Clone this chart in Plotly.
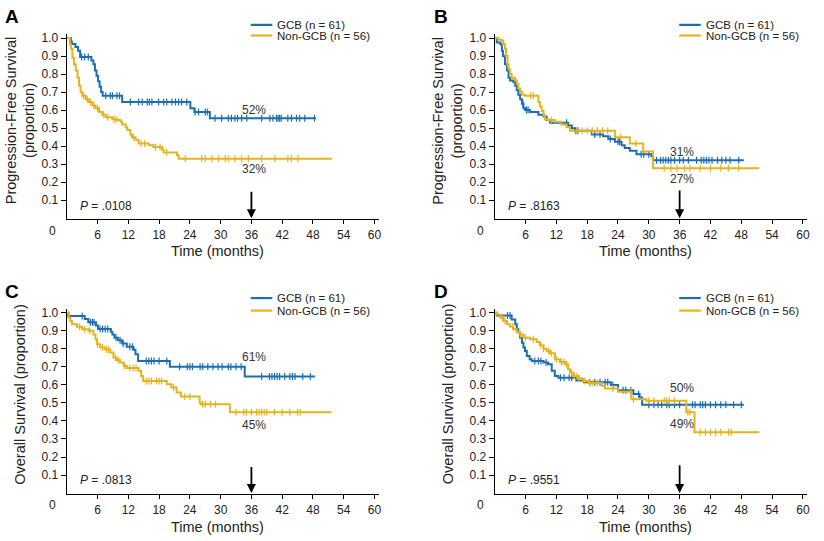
import plotly.graph_objects as go
from bisect import bisect_right

BLUE = "#1b6eb4"
GOLD = "#e6b320"
W, H = 824, 541

x_ticks = [6, 12, 18, 24, 30, 36, 42, 48, 54, 60]
y_ticks = [0.1, 0.2, 0.3, 0.4, 0.5, 0.6, 0.7, 0.8, 0.9, 1.0]
y_tick_text = ["0.1", "0.2", "0.3", "0.4", "0.5", "0.6", "0.7", "0.8", "0.9", "1.0"]

legend_labels = ["GCB (n = 61)", "Non-GCB (n = 56)"]

# ---------------- Panel A ----------------
A_gcb_t = [0.8, 1.0, 1.7, 2.2, 2.6, 4.8, 5.2, 5.5, 5.8, 6.1, 6.4, 6.7, 7.0, 10.8, 24.1, 24.9, 27.9]
A_gcb_s = [0.98, 0.967, 0.95, 0.93, 0.895, 0.875, 0.855, 0.82, 0.79, 0.76, 0.73, 0.70, 0.68, 0.645, 0.61, 0.59, 0.555]
A_gcb_end = 48.6
A_gcb_cens = [2.9, 3.5, 4.2, 7.6, 8.5, 8.9, 9.8, 10.3, 12.4, 14.0, 14.7, 15.7, 16.1, 16.6, 17.9, 18.9, 19.5, 20.5,
              21.2, 21.8, 22.4, 23.4, 25.0, 25.7, 27.0, 27.4, 28.9, 30.2, 31.5, 32.1, 32.8, 33.3, 34.1, 35.1, 38.0,
              39.6, 40.2, 40.9, 41.2, 41.5, 41.8, 43.1, 43.8, 44.8, 45.4, 46.4, 48.3]
A_ngcb_t = [0.6, 0.8, 1.1, 1.4, 1.75, 2.1, 2.4, 2.7, 3.0, 3.7, 4.3, 5.0, 5.6, 6.3, 6.9, 7.6, 8.9, 9.8, 10.5, 10.8,
            11.5, 11.8, 12.4, 12.7, 13.4, 14.0, 16.0, 16.9, 18.6, 18.9, 21.5, 21.8]
A_ngcb_s = [0.965, 0.94, 0.89, 0.855, 0.82, 0.78, 0.735, 0.70, 0.68, 0.66, 0.645, 0.625, 0.61, 0.59, 0.575, 0.56,
            0.55, 0.545, 0.535, 0.52, 0.505, 0.49, 0.465, 0.45, 0.435, 0.415, 0.405, 0.395, 0.38, 0.365, 0.35, 0.33]
A_ngcb_end = 51.7
A_ngcb_cens = [3.3, 4.0, 4.6, 5.3, 6.0, 7.2, 8.0, 9.2, 9.6, 13.0, 14.5, 15.2, 17.3, 18.2, 19.5, 23.1, 26.3, 27.0,
               28.3, 29.6, 30.9, 31.5, 32.8, 34.1, 35.4, 38.0, 40.6, 43.1, 43.8, 45.1]

# ---------------- Panel B ----------------
B_gcb_t = [0.4, 1.1, 1.4, 1.6, 2.0, 2.4, 2.7, 3.0, 3.65, 4.0, 4.3, 4.6, 4.95, 5.3, 5.6, 5.9, 6.9, 8.5, 9.5, 10.1,
           10.8, 14.3, 15.0, 15.6, 18.9, 21.1, 22.1, 23.4, 24.7, 25.3, 26.3, 27.6, 30.5, 30.8]
B_gcb_s = [0.975, 0.965, 0.93, 0.90, 0.855, 0.82, 0.78, 0.765, 0.755, 0.735, 0.71, 0.685, 0.66, 0.635, 0.61, 0.60,
           0.59, 0.575, 0.565, 0.545, 0.53, 0.515, 0.50, 0.485, 0.465, 0.455, 0.44, 0.425, 0.405, 0.39, 0.375,
           0.355, 0.345, 0.322]
B_gcb_end = 48.5
B_gcb_cens = [5.5, 6.2, 6.5, 14.0, 15.8, 16.2, 19.5, 20.5, 22.5, 24.0, 24.3, 28.5, 29.0, 30.0, 31.5, 32.3, 32.8,
              33.3, 33.8, 34.3, 35.0, 36.0, 36.7, 37.7, 39.3, 40.2, 40.7, 41.2, 41.7, 42.3, 43.4, 44.2, 45.0,
              45.8, 47.5]
B_ngcb_t = [0.7, 1.4, 1.7, 2.0, 2.2, 2.5, 2.7, 3.0, 3.3, 4.0, 4.3, 4.6, 4.95, 5.3, 5.9, 8.5, 8.8, 9.15, 9.5, 9.8,
            10.4, 11.7, 13.0, 14.0, 14.65, 23.4, 26.3, 28.9, 30.8]
B_ngcb_s = [0.99, 0.985, 0.965, 0.94, 0.90, 0.855, 0.825, 0.80, 0.78, 0.765, 0.745, 0.72, 0.70, 0.685, 0.68, 0.645,
            0.62, 0.595, 0.57, 0.55, 0.545, 0.535, 0.52, 0.505, 0.485, 0.45, 0.415, 0.37, 0.277]
B_ngcb_end = 51.5
B_ngcb_cens = [2.5, 7.0, 7.5, 11.0, 16.0, 17.0, 18.0, 19.0, 20.0, 21.0, 22.0, 24.5, 27.5, 33.0, 34.3, 35.5, 37.0,
               38.0, 40.0, 42.0, 44.0, 45.5, 47.5]

# ---------------- Panel C ----------------
C_gcb_t = [0.3, 3.5, 4.2, 5.7, 6.1, 8.6, 8.9, 9.3, 10.0, 10.8, 11.7, 13.0, 13.4, 13.9, 20.1, 34.7]
C_gcb_s = [0.982, 0.965, 0.947, 0.93, 0.91, 0.895, 0.88, 0.862, 0.847, 0.83, 0.812, 0.795, 0.77, 0.733, 0.70, 0.646]
C_gcb_end = 48.4
C_gcb_cens = [3.0, 4.6, 5.0, 5.3, 6.5, 7.0, 7.5, 8.0, 9.6, 10.4, 11.0, 12.3, 12.8, 15.5, 16.0, 16.5, 17.0, 18.0,
              19.5, 22.0, 23.5, 24.0, 24.5, 26.0, 26.5, 27.5, 28.5, 29.5, 30.3, 31.5, 32.0, 33.0, 34.0, 38.0,
              39.5, 40.0, 40.5, 41.0, 41.5, 42.5, 43.5, 44.0, 44.5, 46.0, 47.5]
C_ngcb_t = [0.4, 0.7, 1.0, 2.0, 3.0, 4.3, 5.2, 5.6, 5.9, 6.5, 7.5, 8.5, 9.1, 9.8, 10.4, 11.1, 11.7, 14.0, 14.5,
            14.9, 19.5, 20.4, 21.4, 22.25, 25.9, 26.1, 31.8]
C_ngcb_s = [0.972, 0.954, 0.936, 0.923, 0.908, 0.90, 0.88, 0.853, 0.825, 0.807, 0.797, 0.78, 0.751, 0.738, 0.724,
            0.705, 0.694, 0.678, 0.65, 0.622, 0.604, 0.586, 0.558, 0.536, 0.503, 0.492, 0.448]
C_ngcb_end = 51.6
C_ngcb_cens = [2.5, 3.5, 4.5, 6.0, 7.0, 7.8, 8.2, 9.5, 10.0, 11.3, 12.3, 13.0, 13.5, 15.5, 16.0, 16.5, 17.5, 18.0,
               18.5, 20.8, 23.0, 24.0, 26.5, 27.0, 28.0, 29.0, 33.0, 34.5, 35.0, 36.0, 37.0, 37.5, 38.0, 38.5,
               39.0, 40.5, 42.0, 43.5, 45.0, 45.5]

# ---------------- Panel D ----------------
D_gcb_t = [0.4, 3.3, 4.0, 4.3, 4.6, 4.95, 5.3, 5.6, 5.9, 6.25, 6.8, 7.2, 9.5, 10.4, 11.1, 11.7, 12.4, 15.9, 17.4,
           22.6, 24.0, 27.0, 28.2, 28.7]
D_gcb_s = [0.985, 0.963, 0.936, 0.908, 0.89, 0.862, 0.834, 0.807, 0.788, 0.76, 0.742, 0.733, 0.724, 0.715, 0.678,
           0.65, 0.64, 0.625, 0.615, 0.60, 0.57, 0.55, 0.53, 0.49]
D_gcb_end = 48.5
D_gcb_cens = [2.5, 3.0, 7.8, 8.5, 9.0, 10.0, 12.8, 13.5, 14.5, 15.0, 18.5, 19.5, 20.5, 21.5, 22.0, 23.0, 25.0,
              25.5, 26.5, 28.0, 30.0, 31.0, 31.8, 32.5, 33.5, 34.0, 35.0, 36.0, 38.5, 39.0, 40.0, 40.5, 41.0,
              42.0, 43.0, 44.0, 45.0, 46.5, 48.0]
D_ngcb_t = [0.4, 1.1, 1.7, 2.4, 3.0, 3.65, 4.3, 4.95, 5.6, 6.9, 8.2, 8.8, 9.5, 10.1, 10.8, 11.7, 12.7, 13.7, 14.3,
            14.65, 15.3, 16.3, 17.2, 18.2, 20.8, 21.4, 24.0, 26.6, 29.5, 37.3, 38.9]
D_ngcb_s = [0.99, 0.972, 0.954, 0.936, 0.923, 0.908, 0.893, 0.88, 0.862, 0.853, 0.838, 0.82, 0.80, 0.788, 0.775,
            0.742, 0.727, 0.715, 0.687, 0.668, 0.65, 0.635, 0.622, 0.61, 0.595, 0.58, 0.562, 0.52, 0.512, 0.448,
            0.337]
D_ngcb_end = 51.5
D_ngcb_cens = [1.5, 2.0, 3.5, 5.0, 6.0, 7.5, 9.0, 9.5, 10.5, 11.0, 12.0, 13.0, 13.5, 14.0, 15.0, 15.5, 16.0, 16.5,
               17.5, 18.5, 19.0, 20.0, 23.0, 26.5, 27.0, 30.0, 31.0, 33.0, 33.5, 34.0, 35.0, 37.6, 38.0, 40.0,
               41.0, 42.0, 43.0, 44.0, 45.5, 46.0]

panels = [
    dict(letter="A", ytitle="Progression-Free Survival<br>(proportion)", p="= .0108",
         pct=[("52%", 0.60), ("32%", 0.275)], arrow_top=0.155,
         gcb=(A_gcb_t, A_gcb_s, A_gcb_end, A_gcb_cens), ngcb=(A_ngcb_t, A_ngcb_s, A_ngcb_end, A_ngcb_cens)),
    dict(letter="B", ytitle="Progression-Free Survival<br>(proportion)", p="= .8163",
         pct=[("31%", 0.37), ("27%", 0.218)], arrow_top=0.163,
         gcb=(B_gcb_t, B_gcb_s, B_gcb_end, B_gcb_cens), ngcb=(B_ngcb_t, B_ngcb_s, B_ngcb_end, B_ngcb_cens)),
    dict(letter="C", ytitle="Overall Survival (proportion)", p="= .0813",
         pct=[("61%", 0.755), ("45%", 0.38)], arrow_top=0.153,
         gcb=(C_gcb_t, C_gcb_s, C_gcb_end, C_gcb_cens), ngcb=(C_ngcb_t, C_ngcb_s, C_ngcb_end, C_ngcb_cens)),
    dict(letter="D", ytitle="Overall Survival (proportion)", p="= .9551",
         pct=[("50%", 0.583), ("49%", 0.384)], arrow_top=0.163,
         gcb=(D_gcb_t, D_gcb_s, D_gcb_end, D_gcb_cens), ngcb=(D_ngcb_t, D_ngcb_s, D_ngcb_end, D_ngcb_cens)),
]

# layout geometry in pixels
X0 = [67.0, 496.5]          # y-axis pixel x for left/right columns
X1 = [380.0, 810.0]
XR = 60.8
YR = [-0.005, 1.02]
PX_PER_UNIT = 181.3
Y0PIX = [216.5, 492.8]      # pixel y of value 0 for top/bottom rows


def px(x):
    return x / W


def py(y):
    return 1 - y / H


def step_at(t, s, x):
    i = bisect_right(t, x)
    return 1.0 if i == 0 else s[i - 1]


fig = go.Figure()
FONT = "Liberation Sans, Arial, sans-serif"
NARROW = "Liberation Sans Narrow, Arial Narrow, Liberation Sans, sans-serif"
annotations = []
shapes = []


def paper_text(x, y, text, font, xanchor="center", textangle=0):
    return dict(x=px(x), y=py(y), xref="paper", yref="paper", text=text, showarrow=False,
                xanchor=xanchor, yanchor="middle", textangle=textangle, font=font)


for k, pnl in enumerate(panels):
    col, row = k % 2, k // 2
    sfx = "" if k == 0 else str(k + 1)
    xa, ya = "x" + sfx, "y" + sfx
    bottom = Y0PIX[row] - YR[0] * PX_PER_UNIT
    top = Y0PIX[row] - YR[1] * PX_PER_UNIT
    fig.update_layout(**{
        "xaxis" + sfx: dict(domain=[px(X0[col]), px(X1[col])], range=[0, XR], anchor=ya,
                            tickvals=x_ticks, ticktext=[str(v) for v in x_ticks],
                            showgrid=False, zeroline=False, showline=True, linecolor="black", linewidth=1.3,
                            ticks="outside", ticklen=4, tickcolor="black", tickwidth=1,
                            tickfont=dict(family=FONT, size=12, color="#222")),
        "yaxis" + sfx: dict(domain=[py(bottom), py(top)], range=YR, anchor=xa,
                            tickvals=y_ticks, ticktext=y_tick_text,
                            showgrid=False, zeroline=False, showline=True, linecolor="black", linewidth=1.3,
                            ticks="outside", ticklen=5, tickcolor="black", tickwidth=1,
                            tickfont=dict(family=FONT, size=12, color="#222")),
    })
    for key, color in (("gcb", BLUE), ("ngcb", GOLD)):
        t, s, end, cens = pnl[key]
        fig.add_trace(go.Scatter(x=[0] + t + [end], y=[1.0] + s + [s[-1]], mode="lines",
                                 line=dict(color=color, width=2, shape="hv"), xaxis=xa, yaxis=ya,
                                 showlegend=False, hoverinfo="skip"))
        fig.add_trace(go.Scatter(x=cens, y=[step_at(t, s, c) for c in cens], mode="markers",
                                 marker=dict(symbol="line-ns-open", size=5, color=color,
                                             line=dict(color=color, width=1.2)),
                                 xaxis=xa, yaxis=ya, showlegend=False, hoverinfo="skip"))

    # percent labels
    for txt, v in pnl["pct"]:
        annotations.append(dict(x=36.5, y=v, xref=xa, yref=ya, text=txt, showarrow=False,
                                xanchor="center", yanchor="middle",
                                font=dict(family=FONT, size=12, color="#333")))
    # arrow at 36 months
    annotations.append(dict(x=36, y=0.0, xref=xa, yref=ya, ax=36, ay=pnl["arrow_top"], axref=xa, ayref=ya,
                            text="", showarrow=True, arrowhead=2, arrowsize=1, arrowwidth=1.8,
                            arrowcolor="black"))
    # P value
    annotations.append(dict(x=2.2, y=0.07, xref=xa, yref=ya, xanchor="left", yanchor="middle",
                            text="<i>P</i> " + pnl["p"], showarrow=False,
                            font=dict(family=FONT, size=12, color="#222")))
    # "0" corner label
    annotations.append(paper_text(X0[col] - 14, Y0PIX[row] + 12.5, "0",
                                  dict(family=FONT, size=12, color="#222")))
    # panel letter
    annotations.append(paper_text(3 if col == 0 else 434, 14 + row * 276, "<b>%s</b>" % pnl["letter"],
                                  dict(family=FONT, size=19, color="black"), xanchor="left"))
    # axis titles
    ytx = 20 if col == 0 else 449
    yty = 118 if row == 0 else 393
    annotations.append(paper_text(ytx, yty, pnl["ytitle"], dict(family=NARROW, size=14.5, color="#222"),
                                  textangle=-90))
    annotations.append(paper_text(218.3 if col == 0 else 648.3, 249 if row == 0 else 526.5, "Time (months)",
                                  dict(family=NARROW, size=14.5, color="#222")))
    # legend
    lx0 = 251.7 if col == 0 else 681.7
    ly = [22, 32.7] if row == 0 else [296.7, 309.3]
    for lbl, color, yy in zip(legend_labels, (BLUE, GOLD), ly):
        shapes.append(dict(type="line", xref="paper", yref="paper", x0=px(lx0), x1=px(lx0 + 21.6),
                           y0=py(yy), y1=py(yy), line=dict(color=color, width=2.2)))
        annotations.append(paper_text(lx0 + 24.5, yy, lbl, dict(family=NARROW, size=11.5, color="#222"),
                                      xanchor="left"))

fig.update_layout(width=W, height=H, margin=dict(l=0, r=0, t=0, b=0), paper_bgcolor="white",
                  plot_bgcolor="white", showlegend=False, annotations=annotations, shapes=shapes)

fig.write_html("out.html", config={"displayModeBar": False},
               post_script="document.body.style.margin='0px';")
